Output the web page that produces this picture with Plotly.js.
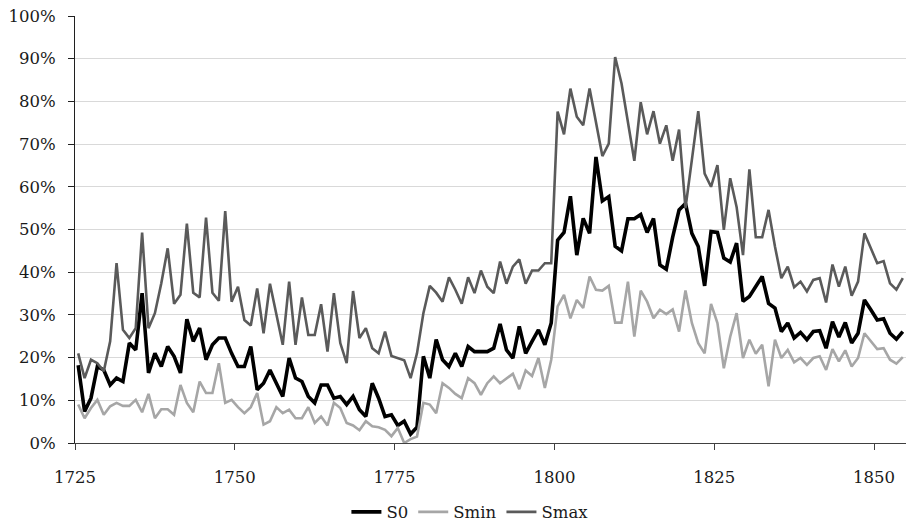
<!DOCTYPE html>
<html>
<head>
<meta charset="utf-8">
<script src="https://cdn.plot.ly/plotly-3.0.1.min.js"></script>
<style>
  html, body { margin: 0; padding: 0; background: #fff; }
  #plot { width: 916px; height: 528px; }
</style>
</head>
<body>
<div id="plot"></div>
<script>
// one value per year, 1725 .. 1854, in percent
const firstYear = 1725
const lastYear = 1854

const s0 = [
  18.2, 7.4, 10.5, 17.9, 17.1, 13.6, 15.2, 14.4, 23.4, 21.8,
  35.1, 16.4, 21.0, 17.9, 22.6, 20.3, 16.4, 29.0, 23.8, 26.9,
  19.5, 23.0, 24.6, 24.6, 21.0, 17.9, 17.9, 22.6, 12.5, 14.0,
  17.1, 14.0, 10.9, 19.9, 15.2, 14.4, 10.9, 9.4, 13.6, 13.6,
  10.5, 10.9, 9.0, 10.9, 7.8, 6.2, 14.0, 10.5, 6.2, 6.6,
  4.1, 5.1, 2.1, 3.7, 20.3, 15.2, 24.2, 19.5, 17.9, 21.0,
  17.9, 22.6, 21.4, 21.4, 21.4, 22.2, 27.9, 21.8, 19.9, 27.3,
  21.0, 23.8, 26.5, 23.0, 28.1, 47.5, 49.3, 57.8, 44.0, 52.6,
  49.1, 67.0, 56.7, 57.7, 46.1, 45.0, 52.5, 52.5, 53.5, 49.3,
  52.6, 41.7, 40.7, 48.2, 54.6, 56.1, 49.1, 46.0, 36.8, 49.5,
  49.3, 43.3, 42.4, 46.8, 33.2, 34.3, 36.6, 39.0, 32.7, 31.6,
  26.1, 28.1, 24.6, 25.9, 24.2, 26.1, 26.3, 22.2, 28.4, 24.8,
  28.2, 23.4, 25.7, 33.5, 31.2, 28.8, 29.1, 25.7, 24.3, 26.1
]

const smin = [
  9.0, 5.8, 8.2, 10.1, 6.6, 8.6, 9.4, 8.7, 8.7, 10.1,
  7.2, 11.5, 5.8, 7.9, 7.9, 6.6, 13.6, 9.4, 7.2, 14.4,
  11.7, 11.7, 18.7, 9.4, 10.1, 8.4, 7.0, 8.4, 11.7, 4.3,
  5.1, 8.4, 7.0, 7.8, 5.8, 5.8, 8.4, 4.7, 6.2, 4.1,
  9.4, 8.2, 4.7, 4.1, 3.0, 5.1, 3.9, 3.7, 3.1, 1.6,
  3.5, 0.0, 0.9, 1.5, 9.4, 9.0, 7.0, 14.0, 12.9, 11.5,
  10.5, 15.2, 14.0, 11.3, 14.0, 15.6, 14.0, 15.2, 16.2, 12.6,
  17.0, 15.7, 19.9, 12.9, 19.5, 32.0, 34.7, 29.2, 33.5, 31.6,
  39.0, 35.9, 35.7, 36.8, 28.2, 28.2, 37.8, 24.9, 35.7, 33.1,
  29.2, 31.2, 30.2, 31.3, 26.1, 35.7, 28.1, 23.4, 21.0, 32.6,
  28.1, 17.5, 24.9, 30.4, 19.9, 24.2, 20.9, 23.0, 13.3, 24.2,
  19.9, 21.8, 18.9, 19.9, 18.3, 19.9, 20.3, 17.1, 22.0, 19.1,
  21.7, 17.9, 19.9, 25.7, 23.8, 22.0, 22.2, 19.5, 18.6, 20.1
]

const smax = [
  21.0, 15.2, 19.5, 18.7, 16.8, 23.8, 42.1, 26.5, 24.6, 26.9,
  49.3, 26.9, 30.4, 37.4, 45.6, 32.6, 34.7, 51.4, 35.2, 34.1,
  52.8, 35.2, 33.3, 54.3, 33.1, 36.6, 28.8, 27.5, 36.2, 25.7,
  37.3, 30.0, 23.0, 37.8, 23.0, 34.1, 25.3, 25.3, 32.5, 21.4,
  35.1, 23.4, 18.7, 35.6, 24.6, 26.9, 22.2, 21.0, 26.1, 20.4,
  19.9, 19.4, 15.2, 21.0, 30.4, 36.8, 35.2, 33.1, 38.8, 35.9,
  32.6, 38.8, 35.1, 40.4, 36.6, 35.1, 42.5, 37.3, 41.3, 43.0,
  37.3, 40.4, 40.4, 42.1, 42.1, 77.6, 72.3, 83.0, 76.4, 74.4,
  83.0, 75.2, 67.2, 70.1, 90.4, 84.2, 75.2, 66.1, 79.8, 72.3,
  77.7, 70.1, 74.4, 66.1, 73.4, 55.0, 66.3, 77.7, 63.1, 60.0,
  65.1, 49.9, 62.0, 55.3, 44.0, 64.1, 48.2, 48.2, 54.6, 46.0,
  38.6, 41.3, 36.5, 37.8, 35.5, 38.2, 38.6, 32.9, 41.8, 36.6,
  41.3, 34.5, 37.8, 49.1, 45.6, 42.1, 42.6, 37.4, 35.9, 38.6
]

const xTicks = [1725, 1750, 1775, 1800, 1825, 1850]
const yTicks = [0, 10, 20, 30, 40, 50, 60, 70, 80, 90, 100]

const years = []
for (let y = firstYear; y <= lastYear; y++) years.push(y)
// points sit in the middle of each year's slot
const xs = years.map(y => y + 0.5)

const font = "DejaVu Serif, Liberation Serif, serif"

const traces = [
  { x: xs, y: s0, name: "S0", type: "scatter", mode: "lines",
    line: { color: "#000000", width: 3.6 } },
  { x: xs, y: smin, name: "Smin", type: "scatter", mode: "lines",
    line: { color: "#a6a6a6", width: 2.6 } },
  { x: xs, y: smax, name: "Smax", type: "scatter", mode: "lines",
    line: { color: "#5a5a5a", width: 2.6 } }
]

const layout = {
  width: 916,
  height: 528,
  margin: { l: 75, r: 10, t: 16, b: 85, pad: 0 },
  paper_bgcolor: "#ffffff",
  plot_bgcolor: "#ffffff",
  font: { family: font, size: 16.5, color: "#1a1a1a" },
  showlegend: true,
  legend: {
    orientation: "h",
    x: 0.513,
    xanchor: "center",
    xref: "container",
    y: 0.03,
    yanchor: "middle",
    yref: "container",
    font: { family: font, size: 16.5, color: "#1a1a1a" },
    tracegroupgap: 0,
    itemclick: false,
    itemdoubleclick: false
  },
  xaxis: {
    range: [1725, 1855],
    tickvals: xTicks,
    ticktext: xTicks.map(String),
    ticks: "outside",
    ticklen: 6,
    tickcolor: "#404040",
    ticklabelstandoff: 13,
    showline: true,
    linecolor: "#404040",
    linewidth: 1,
    showgrid: false,
    zeroline: false,
    fixedrange: true
  },
  yaxis: {
    range: [0, 100],
    tickvals: yTicks,
    ticktext: yTicks.map(v => v + "%"),
    ticks: "outside",
    ticklen: 6,
    tickcolor: "#202020",
    ticklabelstandoff: 9,
    showline: true,
    linecolor: "#202020",
    linewidth: 1,
    showgrid: true,
    gridcolor: "#d9d9d9",
    gridwidth: 1,
    zeroline: false,
    fixedrange: true
  },
  hovermode: false
}

Plotly.newPlot("plot", traces, layout, { displayModeBar: false, staticPlot: true })
</script>
</body>
</html>
